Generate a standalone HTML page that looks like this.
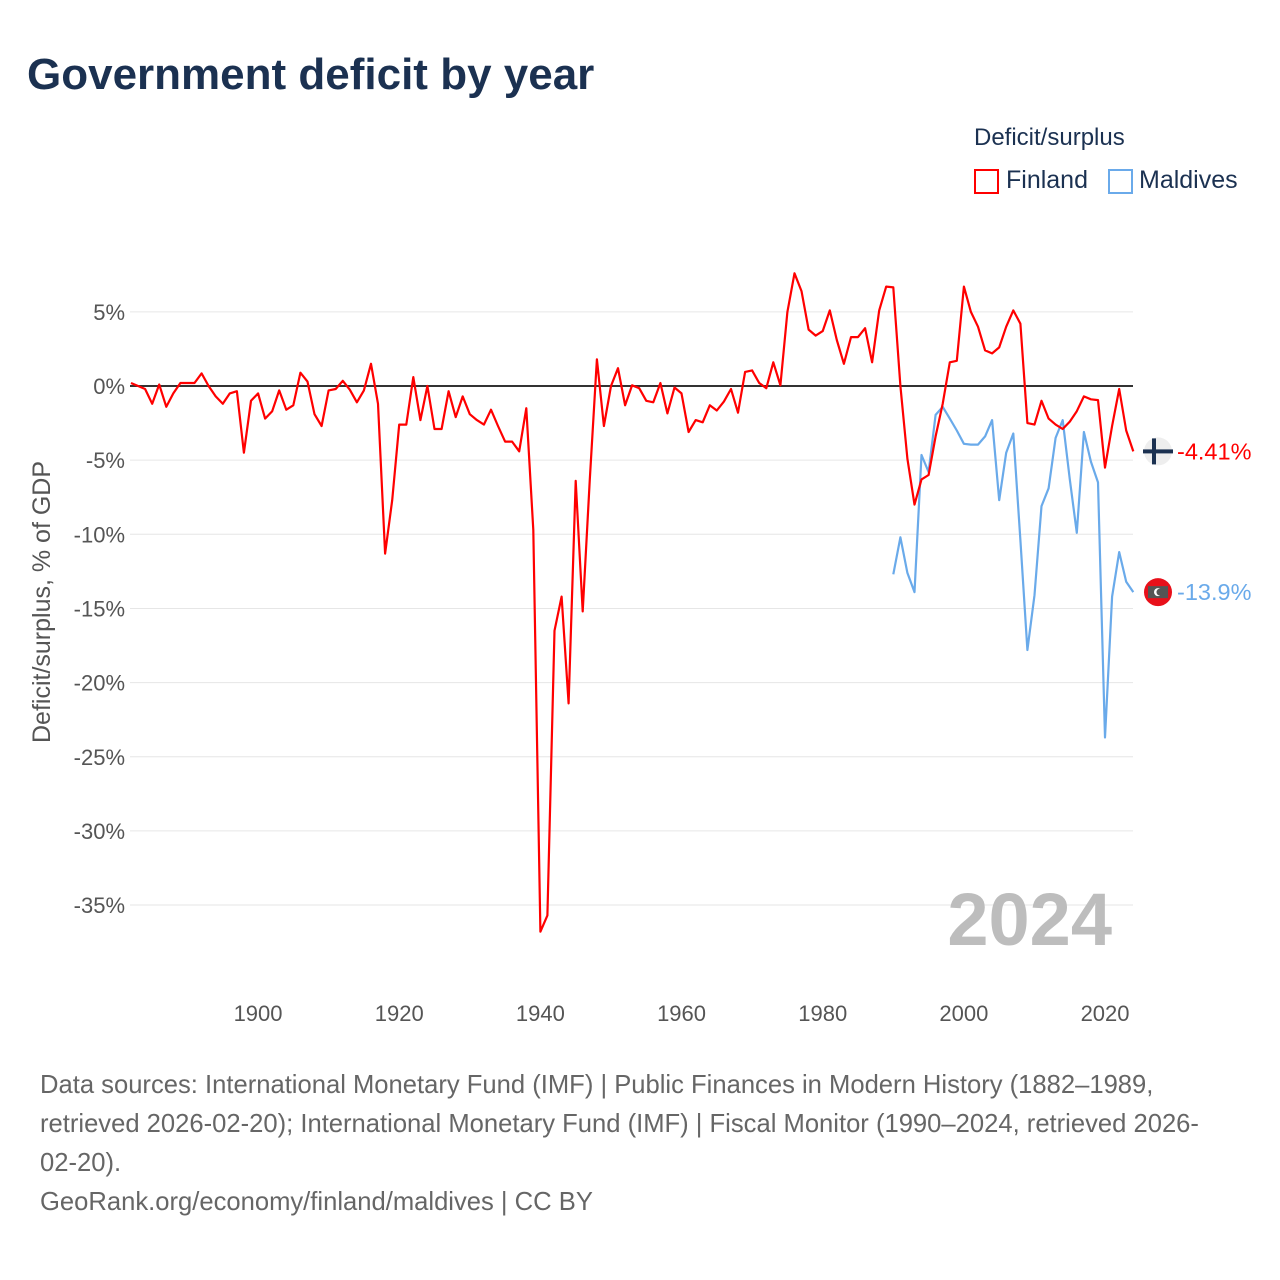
<!DOCTYPE html>
<html><head><meta charset="utf-8">
<style>
html,body{margin:0;padding:0;background:#fff;}
body{width:1280px;height:1280px;position:relative;font-family:"Liberation Sans",sans-serif;overflow:hidden;}
.t{position:absolute;white-space:nowrap;}
</style></head>
<body>
<div class="t" style="left:27px;top:50px;font-size:44px;font-weight:bold;color:#1b3151;">Government deficit by year</div>
<div class="t" style="left:974px;top:124px;font-size:24px;color:#1b3151;">Deficit/surplus</div>
<div style="position:absolute;left:974px;top:168px;">
  <div style="position:absolute;left:0;top:1px;width:21px;height:21px;border:2px solid #f00;"></div>
  <div class="t" style="left:32px;top:-2px;font-size:25px;color:#1b3151;">Finland</div>
</div>
<div style="position:absolute;left:1108px;top:168px;">
  <div style="position:absolute;left:0;top:1px;width:21px;height:21px;border:2px solid #6aaaea;"></div>
  <div class="t" style="left:31px;top:-2px;font-size:25px;color:#1b3151;">Maldives</div>
</div>
<svg id="chart" width="1280" height="1280" style="position:absolute;left:0;top:0;" xmlns="http://www.w3.org/2000/svg"></svg>
<div class="t" style="left:40px;top:1066px;font-size:25.6px;color:#666;line-height:39px;">Data sources: International Monetary Fund (IMF) | Public Finances in Modern History (1882–1989,<br>retrieved 2026-02-20); International Monetary Fund (IMF) | Fiscal Monitor (1990–2024, retrieved 2026-<br>02-20).<br>GeoRank.org/economy/finland/maldives | CC BY</div>
<script>
const finlandValues=[0.2,0,-0.2,-1.2,0.1,-1.4,-0.5,0.2,0.2,0.2,0.85,0,-0.7,-1.2,-0.5,-0.35,-4.5,-1.0,-0.5,-2.2,-1.7,-0.3,-1.6,-1.3,0.9,0.3,-1.9,-2.7,-0.3,-0.2,0.35,-0.25,-1.1,-0.3,1.5,-1.2,-11.3,-7.7,-2.6,-2.6,0.6,-2.3,0,-2.9,-2.9,-0.35,-2.1,-0.7,-1.9,-2.3,-2.6,-1.6,-2.7,-3.75,-3.75,-4.4,-1.5,-9.7,-36.8,-35.7,-16.5,-14.2,-21.4,-6.4,-15.2,-6.3,1.8,-2.7,0,1.2,-1.3,0.05,-0.15,-1.0,-1.1,0.2,-1.85,-0.1,-0.5,-3.1,-2.3,-2.45,-1.3,-1.65,-1.05,-0.2,-1.8,0.95,1.05,0.2,-0.15,1.6,0.05,5.0,7.6,6.4,3.8,3.4,3.7,5.1,3.1,1.5,3.3,3.3,3.9,1.6,5.1,6.7,6.65,0,-4.9,-8.0,-6.3,-6.0,-3.4,-1.2,1.6,1.7,6.7,5.0,4.0,2.4,2.2,2.6,4.0,5.1,4.2,-2.5,-2.6,-1.0,-2.2,-2.6,-2.9,-2.4,-1.7,-0.7,-0.9,-0.95,-5.5,-2.7,-0.2,-3.0,-4.41];
const finlandStart=1882;
const maldivesValues=[-12.7,-10.2,-12.6,-13.9,-4.65,-5.8,-1.95,-1.4,-2.2,-3.0,-3.9,-3.95,-3.95,-3.4,-2.3,-7.7,-4.5,-3.2,-10.4,-17.8,-14.1,-8.1,-6.9,-3.5,-2.3,-6.3,-9.9,-3.1,-5.1,-6.5,-23.7,-14.2,-11.2,-13.2,-13.9];
const maldivesStart=1990;
const yTicks=[5,0,-5,-10,-15,-20,-25,-30,-35];
const xTicks=[1900,1920,1940,1960,1980,2000,2020];

const NS="http://www.w3.org/2000/svg";
const svg=document.getElementById('chart');
const X=yr=>131+(yr-1882)*(1105-258)/120;
const Y=v=>386-v*14.83;
function mk(tag,attrs,parent){const e=document.createElementNS(NS,tag);for(const k in attrs)e.setAttribute(k,attrs[k]);(parent||svg).appendChild(e);return e;}

yTicks.forEach(v=>{
  const g=mk('line',{x1:130,x2:1133,y1:Y(v),y2:Y(v),stroke:v===0?'#333':'#e6e6e6','stroke-width':v===0?2:1});
  
  
  const t=mk('text',{x:125,y:Y(v)+8,'text-anchor':'end','font-size':22,fill:'#555','font-family':'Liberation Sans, sans-serif'});
  t.textContent=v+'%';
  
  
});
xTicks.forEach(yr=>{
  const t=mk('text',{x:X(yr),y:1021,'text-anchor':'middle','font-size':22,fill:'#555','font-family':'Liberation Sans, sans-serif'});
  t.textContent=yr;
  
  
});
const yt=mk('text',{x:0,y:0,transform:'translate(50,602) rotate(-90)','text-anchor':'middle','font-size':25,fill:'#555','font-family':'Liberation Sans, sans-serif'});
yt.textContent='Deficit/surplus, % of GDP';



const yl=mk('text',{x:1112,y:945,'text-anchor':'end','font-size':74,'font-weight':'bold',fill:'#bdbdbd','font-family':'Liberation Sans, sans-serif'});
yl.textContent='2024';



function line(vals,start,color,name){
  const d=vals.map((v,i)=>(i?'L':'M')+X(start+i).toFixed(1)+','+Y(v).toFixed(1)).join(' ');
  const p=mk('path',{d:d,fill:'none',stroke:color,'stroke-width':2.2,'stroke-linejoin':'round'});
  
  
}
line(maldivesValues,maldivesStart,'#6aaaea','maldives-line');
line(finlandValues,finlandStart,'#f00','finland-line');

const fv=finlandValues[finlandValues.length-1], mv=maldivesValues[maldivesValues.length-1];
const fg=mk('g',{});


mk('circle',{cx:1158,cy:Y(fv),r:14,fill:'#eee'},fg);
mk('rect',{x:1143,y:Y(fv)-2,width:30,height:4,fill:'#1b3151'},fg);
mk('rect',{x:1152,y:Y(fv)-13,width:4,height:26,fill:'#1b3151'},fg);
const mg=mk('g',{});


mk('circle',{cx:1158,cy:Y(mv),r:14,fill:'#e8101a'},mg);
mk('rect',{x:1148,y:Y(mv)-6,width:20,height:12,fill:'#555'},mg);
mk('circle',{cx:1158,cy:Y(mv),r:4,fill:'#fff'},mg);
mk('circle',{cx:1160,cy:Y(mv),r:3.5,fill:'#555'},mg);
const fl=mk('text',{x:1177,y:Y(fv)+8,'font-size':23.5,fill:'#f00','font-family':'Liberation Sans, sans-serif'});
fl.textContent=fv+'%';


const ml=mk('text',{x:1177,y:Y(mv)+8,'font-size':23.5,fill:'#6aaaea','font-family':'Liberation Sans, sans-serif'});
ml.textContent=mv+'%';


</script>
</body></html>
